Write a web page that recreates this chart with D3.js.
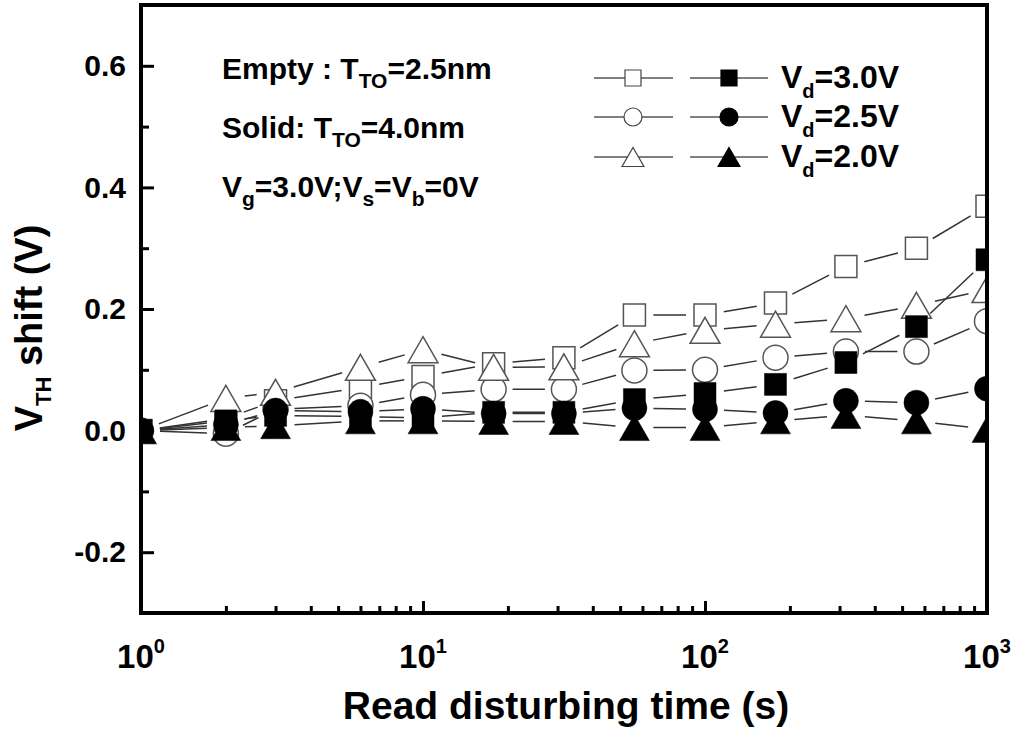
<!DOCTYPE html>
<html>
<head>
<meta charset="utf-8">
<script src="https://cdn.jsdelivr.net/npm/d3@7"></script>
<style>
  body { margin: 0; background: #fff; }
  svg { display: block; }
  text { font-family: "Liberation Sans", Arial, sans-serif; font-weight: bold; fill: #000; }
</style>
</head>
<body>
<svg id="chart" width="1011" height="731"></svg>
<script>
////////////////////////////////////////////////////////////////////////
//
// chart data
//
////////////////////////////////////////////////////////////////////////
var times     = [1, 2, 3, 6, 10, 17.8, 31.6, 56.2, 100, 177.8, 316, 562, 1000];

// empty symbols : T_TO = 2.5nm
var emptyVd30 = [0, 0.020, 0.049, 0.071, 0.089, 0.110, 0.120, 0.190, 0.190, 0.210, 0.270, 0.300, 0.369];
var emptyVd25 = [0, -0.005, 0.035, 0.041, 0.059, 0.068, 0.068, 0.099, 0.100, 0.120, 0.130, 0.130, 0.180];
var emptyVd20 = [0, 0.053, 0.063, 0.104, 0.133, 0.104, 0.105, 0.143, 0.165, 0.175, 0.184, 0.206, 0.232];

// solid symbols : T_TO = 4.0nm
var solidVd30 = [0, 0.016, 0.025, 0.023, 0.021, 0.030, 0.030, 0.051, 0.061, 0.076, 0.112, 0.171, 0.281];
var solidVd25 = [0, 0.010, 0.033, 0.031, 0.036, 0.028, 0.028, 0.037, 0.035, 0.029, 0.049, 0.046, 0.069];
var solidVd20 = [0, 0.005, 0.008, 0.016, 0.016, 0.015, 0.015, 0.005, 0.005, 0.016, 0.025, 0.016, 0.002];

var yMajorTicks  = [-0.2, 0.0, 0.2, 0.4, 0.6];
var yMinorTicks  = [-0.1, 0.1, 0.3, 0.5];
var xMajorTicks  = [1, 10, 100, 1000];
var xTickExps    = ["0", "1", "2", "3"];
var legendLabels = ["3.0V", "2.5V", "2.0V"];


////////////////////////////////////////////////////////////////////////
//
// build a marker path centred on 0,0
//
////////////////////////////////////////////////////////////////////////
function markerPath(shape, s)
    {
    var p = d3.path();
    if(shape === "square")
        {
        p.rect(-s / 2, -s / 2, s, s);
        }
    else if(shape === "circle")
        {
        p.moveTo(s / 2, 0);
        p.arc(0, 0, s / 2, 0, 2 * Math.PI);
        }
    else
        {
        var w = s * 1.15;
        p.moveTo(0, -s / 2);
        p.lineTo(w / 2, s / 2);
        p.lineTo(-w / 2, s / 2);
        p.closePath();
        }
    return p.toString();
    }


////////////////////////////////////////////////////////////////////////
//
// draw the chart
//
////////////////////////////////////////////////////////////////////////
function init()
    {
    var svg = d3.select("#chart");

    var left = 141, right = 987, top = 5, bottom = 613;

    var x = d3.scaleLog().domain([1, 1000]).range([left, right]);
    var y = d3.scaleLinear().domain([-0.3, 0.7]).range([bottom, top]);

    var series = [
        {values: emptyVd30, shape: "square",   filled: false, size: 22},
        {values: emptyVd25, shape: "circle",   filled: false, size: 25},
        {values: emptyVd20, shape: "triangle", filled: false, size: 26},
        {values: solidVd30, shape: "square",   filled: true,  size: 22},
        {values: solidVd25, shape: "circle",   filled: true,  size: 25},
        {values: solidVd20, shape: "triangle", filled: true,  size: 26}
        ];

    svg.append("clipPath").attr("id", "plotClip")
        .append("rect")
        .attr("x", left).attr("y", top)
        .attr("width", right - left).attr("height", bottom - top);

    var plot = svg.append("g").attr("clip-path", "url(#plotClip)");

    //lines with a gap round every marker (origin style)
    var gap = 19;
    series.forEach(function(s)
        {
        var pts = times.map(function(t, i) { return [x(t), y(s.values[i])]; });
        for(var i = 0; i < pts.length - 1; i++)
            {
            var dx = pts[i + 1][0] - pts[i][0];
            var dy = pts[i + 1][1] - pts[i][1];
            var len = Math.sqrt(dx * dx + dy * dy);
            if(len <= 2 * gap) continue;
            var ux = dx / len, uy = dy / len;
            plot.append("line")
                .attr("x1", pts[i][0] + ux * gap).attr("y1", pts[i][1] + uy * gap)
                .attr("x2", pts[i + 1][0] - ux * gap).attr("y2", pts[i + 1][1] - uy * gap)
                .attr("stroke", "#333")
                .attr("stroke-width", 1.5);
            }
        });

    //markers
    series.forEach(function(s)
        {
        plot.selectAll(null)
            .data(times.map(function(t, i) { return [t, s.values[i]]; }))
            .enter()
            .append("path")
            .attr("transform", function(d) { return "translate(" + x(d[0]) + "," + y(d[1]) + ")"; })
            .attr("d", markerPath(s.shape, s.size))
            .attr("fill", s.filled ? "#000" : "#fff")
            .attr("stroke", s.filled ? "#000" : "#555")
            .attr("stroke-width", s.filled ? 0.5 : 1.5);
        });

    //y axis, inward ticks
    var yAxis = svg.append("g").attr("transform", "translate(" + left + ",0)")
        .call(d3.axisLeft(y).tickValues(yMajorTicks).tickSize(-13).tickPadding(15)
            .tickFormat(function(d) { return d.toFixed(1); }));
    yAxis.select(".domain").remove();
    yAxis.selectAll(".tick line").attr("stroke-width", 3);
    yAxis.selectAll(".tick text").attr("font-size", 30).attr("font-family", null);

    var yMinor = svg.append("g").attr("transform", "translate(" + left + ",0)")
        .call(d3.axisLeft(y).tickValues(yMinorTicks).tickSize(-8).tickFormat(""));
    yMinor.select(".domain").remove();
    yMinor.selectAll(".tick line").attr("stroke-width", 3);

    //x axis, log ticks
    var xMinorTicks = [];
    [1, 10, 100].forEach(function(dec)
        {
        for(var k = 2; k <= 9; k++) xMinorTicks.push(dec * k);
        });

    var xAxis = svg.append("g").attr("transform", "translate(0," + bottom + ")")
        .call(d3.axisBottom(x).tickValues(xMajorTicks).tickSize(-12).tickFormat(""));
    xAxis.select(".domain").remove();
    xAxis.selectAll(".tick line").attr("stroke-width", 3);

    var xMinor = svg.append("g").attr("transform", "translate(0," + bottom + ")")
        .call(d3.axisBottom(x).tickValues(xMinorTicks).tickSize(-7).tickFormat(""));
    xMinor.select(".domain").remove();
    xMinor.selectAll(".tick line").attr("stroke-width", 3);

    var xLabels = svg.append("g").selectAll(null)
        .data(xMajorTicks)
        .enter()
        .append("text")
        .attr("x", function(d) { return x(d); })
        .attr("y", 668)
        .attr("text-anchor", "middle")
        .attr("font-size", 33);
    xLabels.append("tspan").text("10");
    xLabels.append("tspan").attr("font-size", 20).attr("dy", -15)
        .text(function(d, i) { return xTickExps[i]; });

    //frame
    svg.append("rect")
        .attr("x", left).attr("y", top)
        .attr("width", right - left).attr("height", bottom - top)
        .attr("fill", "none").attr("stroke", "#000").attr("stroke-width", 4);

    //axis titles
    svg.append("text")
        .attr("x", 566).attr("y", 719)
        .attr("text-anchor", "middle")
        .attr("font-size", 39)
        .text("Read disturbing time (s)");

    var yTitle = svg.append("text")
        .attr("transform", "translate(42,328) rotate(-90)")
        .attr("text-anchor", "middle")
        .attr("font-size", 38);
    yTitle.append("tspan").text("V");
    yTitle.append("tspan").attr("font-size", 22).attr("dy", 9).text("TH");
    yTitle.append("tspan").attr("dy", -9).text(" shift (V)");

    //annotation block
    var notes = [
        [["Empty : T", 0], ["TO", 1], ["=2.5nm", 0]],
        [["Solid: T", 0], ["TO", 1], ["=4.0nm", 0]],
        [["V", 0], ["g", 1], ["=3.0V;V", 0], ["s", 1], ["=V", 0], ["b", 1], ["=0V", 0]]
        ];
    notes.forEach(function(parts, row)
        {
        var t = svg.append("text")
            .attr("x", 222).attr("y", 79 + row * 59)
            .attr("font-size", 30);
        var prev = 0;
        parts.forEach(function(p)
            {
            var shift = (p[1] - prev) * 9;
            t.append("tspan")
                .attr("dy", shift)
                .attr("font-size", p[1] ? 21 : 30)
                .text(p[0]);
            prev = p[1];
            });
        });

    //legend
    var legendRows = [78, 117, 157];
    legendLabels.forEach(function(lab, i)
        {
        var yy = legendRows[i];
        var shape = series[i].shape;
        [[594, 673, 633, false], [690, 768, 729, true]].forEach(function(c)
            {
            svg.append("line")
                .attr("x1", c[0]).attr("x2", c[1])
                .attr("y1", yy).attr("y2", yy)
                .attr("stroke", "#555").attr("stroke-width", 1.5);
            svg.append("path")
                .attr("transform", "translate(" + c[2] + "," + yy + ")")
                .attr("d", markerPath(shape, shape === "triangle" ? 19 : (shape === "circle" ? 18 : 16)))
                .attr("fill", c[3] ? "#000" : "#fff")
                .attr("stroke", c[3] ? "#000" : "#444")
                .attr("stroke-width", 1.2);
            });
        var t = svg.append("text")
            .attr("x", 781).attr("y", yy + 10)
            .attr("font-size", 32);
        t.append("tspan").text("V");
        t.append("tspan").attr("font-size", 20).attr("dy", 10).text("d");
        t.append("tspan").attr("dy", -10).text("=" + lab);
        });
    }

init();
</script>
</body>
</html>
